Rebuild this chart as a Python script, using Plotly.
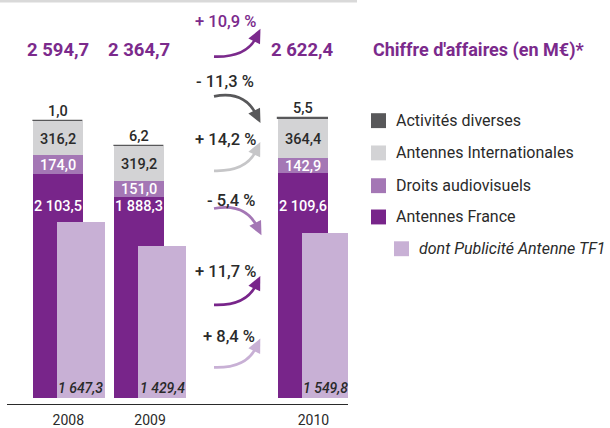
import plotly.graph_objects as go

W, H = 610, 428

# ---------------- data ----------------
years = ["2008", "2009", "2010"]
year_slots = [0, 1, 3]  # 2010 is set apart to leave room for the variation arrows
antennes_france = [2103.5, 1888.3, 2109.6]
droits_audiovisuels = [174.0, 151.0, 142.9]
antennes_internationales = [316.2, 319.2, 364.4]
activites_diverses = [1.0, 6.2, 5.5]
publicite_tf1 = [1647.3, 1429.4, 1549.8]
variation_labels = ["+ 10,9 %", "- 11,3 %", "+ 14,2 %", "- 5,4 %", "+ 11,7 %", "+ 8,4 %"]
series_names = ["Activités diverses", "Antennes Internationales", "Droits audiovisuels",
                "Antennes France", "dont Publicité Antenne TF1"]
title_text = "Chiffre d'affaires (en M€)*"

# ---------------- style ----------------
FONT = "Roboto, Liberation Sans, sans-serif"
C_ACT = "#58585a"
C_INT = "#d3d3d5"
C_DROITS = "#a477b5"
C_FRANCE = "#78258a"
C_PUB = "#c8b0d5"
C_TITLE = "#7b2a8c"
C_TEXT = "#2a2a2a"


def fr(v):
    s = f"{v:,.1f}"
    return s.replace(",", " ").replace(".", ",")


def px(x):
    return x / W


def py(y):
    return 1 - y / H


base_droits = list(antennes_france)
base_int = [a + b for a, b in zip(base_droits, droits_audiovisuels)]
base_act = [a + b for a, b in zip(base_int, antennes_internationales)]
totals = [a + b for a, b in zip(base_act, activites_diverses)]

MAIN_W, MAIN_OFF = 0.612, -0.306
PUB_W, PUB_OFF = 0.587, -0.012

fig = go.Figure()
common = dict(x=year_slots, width=MAIN_W, offset=MAIN_OFF, hoverinfo="skip", showlegend=False)
fig.add_trace(go.Bar(y=antennes_france, base=[0, 0, 0], marker=dict(color=C_FRANCE, line_width=0), **common))
fig.add_trace(go.Bar(y=droits_audiovisuels, base=base_droits, marker=dict(color=C_DROITS, line_width=0), **common))
fig.add_trace(go.Bar(y=antennes_internationales, base=base_int, marker=dict(color=C_INT, line_width=0), **common))
fig.add_trace(go.Bar(y=activites_diverses, base=base_act,
                     marker=dict(color=C_ACT, line=dict(color=C_ACT, width=1.2)), **common))
fig.add_trace(go.Bar(x=year_slots, y=publicite_tf1, width=PUB_W, offset=PUB_OFF,
                     marker=dict(color=C_PUB, line_width=0), hoverinfo="skip", showlegend=False))

ann = []
shapes = []

# totals
for xs, t in zip(year_slots, totals):
    ann.append(dict(x=xs, y=py(50), xref="x", yref="paper", text=f"<b>{fr(t)}</b>",
                    showarrow=False, font=dict(size=18.5, color=C_TITLE), xanchor="center", yanchor="middle"))
ann.append(dict(x=px(371), y=py(50), xref="paper", yref="paper", text=f"<b>{title_text}</b>",
                showarrow=False, font=dict(size=18, color=C_TITLE), xanchor="left", yanchor="middle"))

# segment labels
FRANCE_LABEL_LEVEL = 1795
PUB_LABEL_LEVEL = 102
lab = dict(showarrow=False, borderpad=0, xref="x", yref="y")
for i, xs in enumerate(year_slots):
    ann.append(dict(x=xs, y=totals[i], text=fr(activites_diverses[i]),
                    font=dict(size=14.5, color=C_TEXT, weight=500), yanchor="bottom", yshift=0, **lab))
    ann.append(dict(x=xs, y=base_int[i] + antennes_internationales[i] / 2,
                    text=fr(antennes_internationales[i]),
                    font=dict(size=14.5, color=C_TEXT, weight=500), yanchor="middle", yshift=-1.5, **lab))
    ann.append(dict(x=xs, y=base_droits[i] + droits_audiovisuels[i] / 2,
                    text=fr(droits_audiovisuels[i]),
                    font=dict(size=14.5, color="white", weight=500), yanchor="middle", yshift=-1, **lab))
    ann.append(dict(x=xs, y=FRANCE_LABEL_LEVEL,
                    text=fr(antennes_france[i]),
                    font=dict(size=14.5, color="white", weight=500), yanchor="middle", **lab))
    ann.append(dict(x=xs + PUB_OFF + PUB_W / 2, y=PUB_LABEL_LEVEL,
                    text=f"<i>{fr(publicite_tf1[i])}</i>",
                    font=dict(size=14, color=C_TEXT, weight=500), yanchor="middle", yshift=-1, **lab))

# variation arrows (pixel geometry: start, control, end-of-shaft)
arrow_specs = [
    ((225, 22), C_TITLE, C_TITLE, (214, 57), (246, 58), (256, 38)),
    ((225, 82), C_TEXT, "#58585a", (214, 97), (244, 91), (256, 115)),
    ((225, 140), C_TEXT, "#c6c6c8", (214, 172), (246, 173), (256, 152)),
    ((231, 202), C_TEXT, C_DROITS, (214, 210), (245, 204), (257, 228)),
    ((225, 273), C_TEXT, C_FRANCE, (214, 307), (246, 308), (256, 287)),
    ((229, 339), C_TEXT, C_PUB, (214, 370), (246, 371), (256, 350)),
]
for label, (pos, tcol, acol, p0, p1, p2) in zip(variation_labels, arrow_specs):
    ann.append(dict(x=px(pos[0]), y=py(pos[1]), xref="paper", yref="paper", text=label, showarrow=False,
                    font=dict(size=16.5, color=tcol, weight=500), xanchor="center", yanchor="middle",
                    borderpad=0))
    shapes.append(dict(type="path", xref="paper", yref="paper",
                       path=f"M {px(p0[0])},{py(p0[1])} Q {px(p1[0])},{py(p1[1])} {px(p2[0])},{py(p2[1])}",
                       line=dict(color=acol, width=2.7)))
    dx, dy = p2[0] - p1[0], p2[1] - p1[1]
    n = (dx * dx + dy * dy) ** 0.5
    ux, uy = dx / n, dy / n
    L, Wd = 14, 6.5
    tip = (p2[0] + ux * (L - 4), p2[1] + uy * (L - 4))
    b = (p2[0] - ux * 4, p2[1] - uy * 4)
    l1 = (b[0] - uy * Wd, b[1] + ux * Wd)
    l2 = (b[0] + uy * Wd, b[1] - ux * Wd)
    shapes.append(dict(type="path", xref="paper", yref="paper",
                       path=f"M {px(tip[0])},{py(tip[1])} L {px(l1[0])},{py(l1[1])} L {px(l2[0])},{py(l2[1])} Z",
                       fillcolor=acol, line=dict(width=0)))

# legend
legend_colors = [C_ACT, C_INT, C_DROITS, C_FRANCE, C_PUB]
legend_rows = [121.5, 154, 187, 218.5, 250.5]
legend_sq_x = [371, 371, 371, 371, 394]
for name, col, yy, sx in zip(series_names, legend_colors, legend_rows, legend_sq_x):
    shapes.append(dict(type="rect", xref="paper", yref="paper", x0=px(sx), x1=px(sx + 15),
                       y0=py(yy - 7.5), y1=py(yy + 7.5), fillcolor=col, line=dict(width=0)))
    txt = f"<i>{name}</i>" if sx > 371 else name
    ann.append(dict(x=px(sx + 23), y=py(yy), xref="paper", yref="paper", text=txt,
                    showarrow=False, font=dict(size=16, color=C_TEXT), xanchor="left", yanchor="middle"))

# top strip
shapes.append(dict(type="rect", xref="paper", yref="paper", x0=0, x1=px(357), y0=py(2.5), y1=1,
                   fillcolor="#d9d9d9", line=dict(width=0)))

fig.update_layout(
    width=W, height=H, margin=dict(l=0, r=0, t=0, b=0),
    paper_bgcolor="white", plot_bgcolor="white",
    barmode="overlay", bargap=0,
    font=dict(family=FONT, color=C_TEXT),
    annotations=ann, shapes=shapes, showlegend=False,
    xaxis=dict(domain=[px(7), px(348)], range=[(7 - 57.7) / 81.7, (348 - 57.7) / 81.7],
               tickvals=[s + 0.13 for s in year_slots], ticktext=years, ticks="",
               ticklabelstandoff=3,
               showline=True, linecolor="#2a2a2a", linewidth=1.3, showgrid=False, zeroline=False,
               tickfont=dict(size=14, color=C_TEXT)),
    yaxis=dict(domain=[21 / H, 1], range=[-6 / 0.1075, 401 / 0.1075], visible=False,
               showgrid=False, zeroline=False),
)

fig.write_html("out.html", config={"displayModeBar": False},
               post_script="document.body.style.margin='0';document.body.style.padding='0';")
